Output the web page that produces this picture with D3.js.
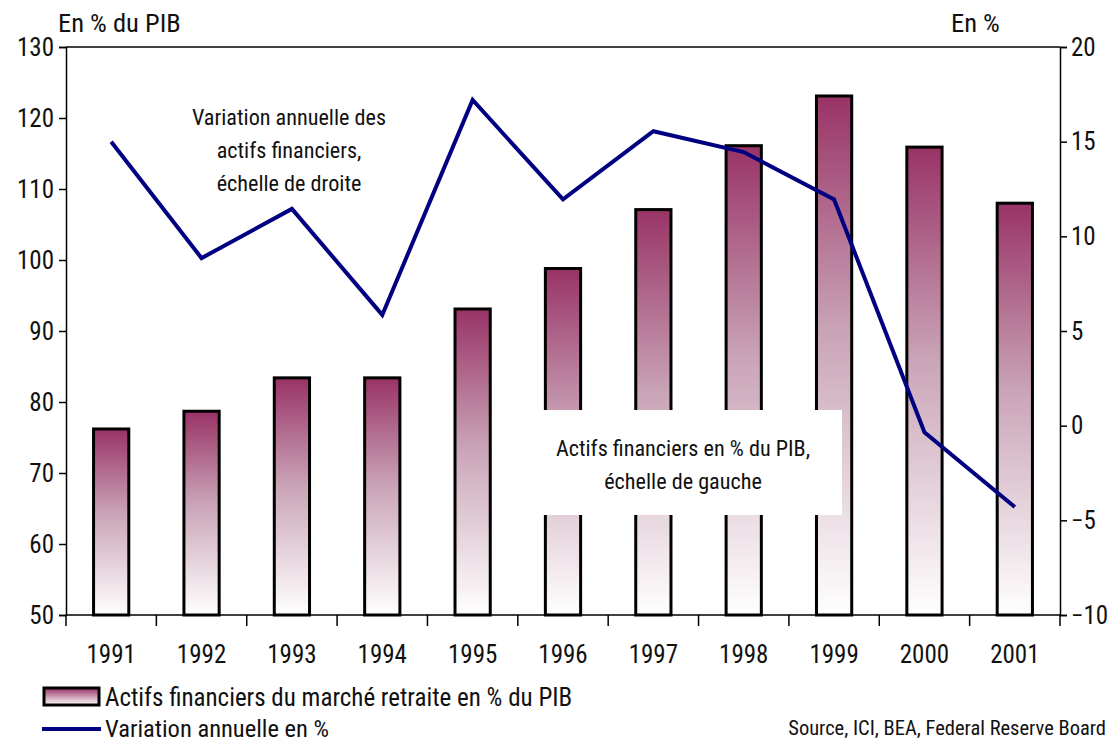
<!DOCTYPE html>
<html><head><meta charset="utf-8">
<script src="https://cdn.jsdelivr.net/npm/d3@7"></script>
<style>
body{margin:0;background:#fff;}
text{font-family:"Liberation Sans Narrow","Arial Narrow","Roboto Condensed","Liberation Sans",sans-serif;fill:#111;}
</style></head>
<body><svg id="c" width="1114" height="744"></svg>
<script>
const years = ["1991","1992","1993","1994","1995","1996","1997","1998","1999","2000","2001"];
const assetsPctGDP = [76.2, 78.7, 83.4, 83.4, 93.1, 98.8, 107.1, 116.1, 123.1, 115.9, 108.0];
const annualChange = [15.0, 8.85, 11.45, 5.85, 17.2, 11.95, 15.55, 14.45, 11.95, -0.35, -4.3];
const leftTicks = [50,60,70,80,90,100,110,120,130];
const rightTicks = [-10,-5,0,5,10,15,20];

const svg = d3.select("#c");
const L=66, R=1060, T=47, B=615;
const FONT = '"Liberation Sans Narrow","Arial Narrow","Roboto Condensed","Liberation Sans",sans-serif';

const x = d3.scaleBand().domain(years).range([L,R]).paddingInner(0.61).paddingOuter(0.305);
const xb = d3.scaleBand().domain(years).range([L,R]);
const yL = d3.scaleLinear().domain([50,130]).range([B,T]);
const yR = d3.scaleLinear().domain([-10,20]).range([B,T]);

const defs = svg.append("defs");
const g = defs.append("linearGradient").attr("id","bg").attr("x1",0).attr("y1",0).attr("x2",0).attr("y2",1);
g.append("stop").attr("offset","0%").attr("stop-color","#993366");
g.append("stop").attr("offset","45%").attr("stop-color","#c9a3b6");
g.append("stop").attr("offset","100%").attr("stop-color","#ffffff");

// bars
svg.append("g").selectAll("rect").data(years).join("rect")
  .attr("x",d=>x(d)).attr("width",x.bandwidth())
  .attr("y",(d,i)=>yL(assetsPctGDP[i])).attr("height",(d,i)=>B-yL(assetsPctGDP[i]))
  .attr("fill","url(#bg)").attr("stroke","#000").attr("stroke-width",3);

// annotation box (white)
svg.append("rect").attr("x",516).attr("y",410).attr("width",326).attr("height",105).attr("fill","#fff");

// line
const line = d3.line().x((d,i)=>xb(years[i])+xb.bandwidth()/2).y(d=>yR(d));
svg.append("path").datum(annualChange).attr("d",line)
  .attr("fill","none").attr("stroke","#000080").attr("stroke-width",4).attr("stroke-linejoin","miter");

// axes
const fs = "25px";
const axL = svg.append("g").attr("transform",`translate(${L},0)`)
  .call(d3.axisLeft(yL).tickValues(leftTicks).tickSize(7).tickPadding(5));
const axR = svg.append("g").attr("transform",`translate(${R},0)`)
  .call(d3.axisRight(yR).tickValues(rightTicks).tickSize(7).tickPadding(4));
const axB = svg.append("g").attr("transform",`translate(0,${B})`)
  .call(d3.axisBottom(xb).tickSize(0).tickPadding(30));
// boundary ticks on x axis
svg.append("g").selectAll("line").data(d3.range(years.length+1)).join("line")
  .attr("x1",i=>L+i*xb.step()).attr("x2",i=>L+i*xb.step())
  .attr("y1",B).attr("y2",B+11).attr("stroke","#000").attr("stroke-width",1.5);
[axL,axR,axB].forEach(a=>{
  a.selectAll("path.domain").attr("stroke","#000").attr("stroke-width",1.5);
  a.selectAll(".tick line").attr("stroke","#000").attr("stroke-width",1.5);
  a.selectAll("text").style("font-size",fs).attr("fill","#111").style("font-family",FONT);
});
axB.select("path.domain").attr("d",`M${L},0H${R}`);
// top frame
svg.append("line").attr("x1",L).attr("x2",R).attr("y1",T).attr("y2",T).attr("stroke","#000").attr("stroke-width",1.5);

// axis titles
svg.append("text").attr("x",58).attr("y",32).style("font-size","26.5px").text("En % du PIB");
svg.append("text").attr("x",951).attr("y",32).style("font-size","26.5px").text("En %");

// annotations
const ann1 = ["Variation annuelle des","actifs financiers,","échelle de droite"];
svg.append("g").selectAll("text").data(ann1).join("text")
  .attr("x",289).attr("y",(d,i)=>125+i*33).attr("text-anchor","middle").style("font-size","22.2px").text(d=>d);
const ann2 = ["Actifs financiers en % du PIB,","échelle de gauche"];
svg.append("g").selectAll("text").data(ann2).join("text")
  .attr("x",683).attr("y",(d,i)=>456+i*33).attr("text-anchor","middle").style("font-size","22.2px").text(d=>d);

// legend
const lg = defs.append("linearGradient").attr("id","lg").attr("x1",0).attr("y1",0).attr("x2",0).attr("y2",1);
lg.append("stop").attr("offset","0%").attr("stop-color","#993366");
lg.append("stop").attr("offset","100%").attr("stop-color","#ffffff");
svg.append("rect").attr("x",44).attr("y",688).attr("width",55).attr("height",17)
  .attr("fill","url(#lg)").attr("stroke","#000").attr("stroke-width",3);
svg.append("text").attr("x",105).attr("y",706).style("font-size","25px").text("Actifs financiers du marché retraite en % du PIB");
svg.append("line").attr("x1",42).attr("x2",101).attr("y1",729).attr("y2",729).attr("stroke","#000080").attr("stroke-width",4);
svg.append("text").attr("x",105).attr("y",737).style("font-size","24.5px").text("Variation annuelle en %");

svg.append("text").attr("x",1106).attr("y",735).attr("text-anchor","end").style("font-size","20.5px").text("Source, ICI, BEA, Federal Reserve Board");
</script></body></html>
